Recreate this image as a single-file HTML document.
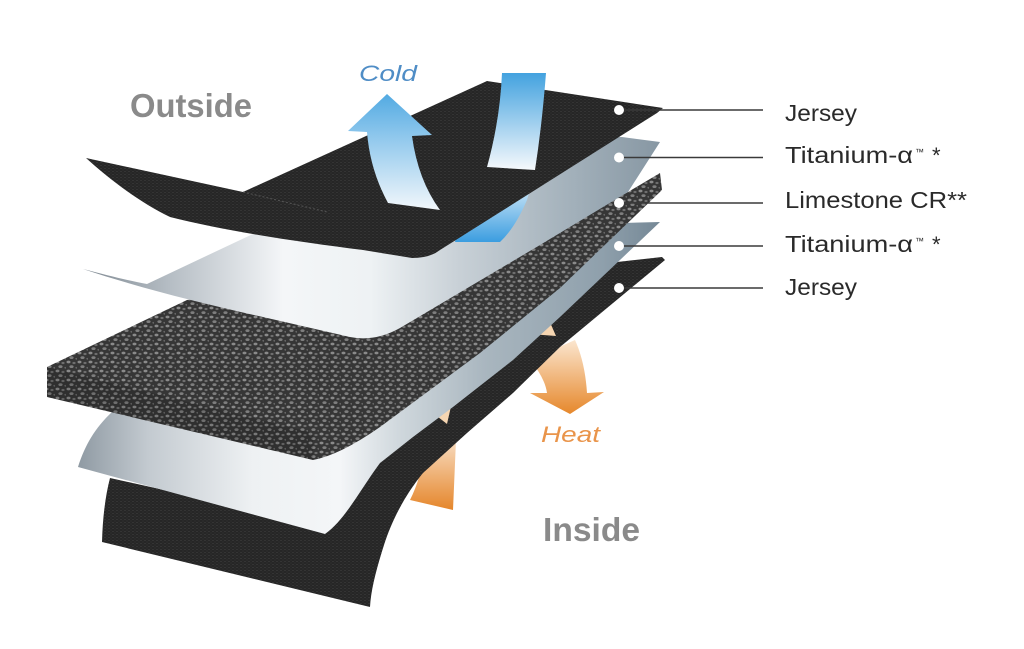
<!DOCTYPE html>
<html><head><meta charset="utf-8"><style>
html,body{margin:0;padding:0;background:#fff;width:1024px;height:649px;overflow:hidden}
svg{display:block}
text{font-family:"Liberation Sans",sans-serif}
</style></head><body>
<svg width="1024" height="649" viewBox="0 0 1024 649" xmlns="http://www.w3.org/2000/svg">
<defs>
<pattern id="knit" width="4" height="3" patternUnits="userSpaceOnUse">
<rect width="4" height="3" fill="#262626"/>
<rect x="0" y="0" width="2" height="1" fill="#343434"/>
<rect x="2" y="1.5" width="2" height="1" fill="#2f2f2f"/>
</pattern>
<pattern id="lime" width="11" height="9" patternUnits="userSpaceOnUse">
<rect width="11" height="9" fill="#363636"/>
<ellipse cx="2.5" cy="2" rx="2" ry="1.4" fill="#8a8a8a"/>
<ellipse cx="8" cy="3" rx="1.6" ry="1.1" fill="#6f6f6f"/>
<ellipse cx="5.5" cy="6.6" rx="2.1" ry="1.4" fill="#7e7e7e"/>
<ellipse cx="10.5" cy="7.8" rx="1.2" ry="0.9" fill="#666"/>
</pattern>
<linearGradient id="s1" gradientUnits="userSpaceOnUse" x1="80" y1="0" x2="660" y2="0">
<stop offset="0" stop-color="#7d8790"/>
<stop offset="0.15" stop-color="#b4bcc3"/>
<stop offset="0.35" stop-color="#f4f6f8"/>
<stop offset="0.5" stop-color="#eef2f4"/>
<stop offset="0.65" stop-color="#c9d1d7"/>
<stop offset="0.85" stop-color="#a2b0ba"/>
<stop offset="1" stop-color="#8797a3"/>
</linearGradient>
<linearGradient id="s2" gradientUnits="userSpaceOnUse" x1="78" y1="0" x2="660" y2="0">
<stop offset="0" stop-color="#8f9aa3"/>
<stop offset="0.12" stop-color="#c3cad0"/>
<stop offset="0.3" stop-color="#eef1f3"/>
<stop offset="0.45" stop-color="#f4f6f8"/>
<stop offset="0.55" stop-color="#d0d8dd"/>
<stop offset="0.7" stop-color="#a9b6bf"/>
<stop offset="0.9" stop-color="#8fa0ac"/>
<stop offset="1" stop-color="#758896"/>
</linearGradient>
<linearGradient id="coldUp" x1="0" y1="0" x2="0" y2="1">
<stop offset="0" stop-color="#52aae2"/>
<stop offset="0.35" stop-color="#8cc6ec"/>
<stop offset="1" stop-color="#f2f7fb"/>
</linearGradient>
<linearGradient id="coldDn" x1="0" y1="0" x2="0" y2="1">
<stop offset="0" stop-color="#43a2df"/>
<stop offset="1" stop-color="#f6f9fc"/>
</linearGradient>
<linearGradient id="coldBit" x1="0" y1="0" x2="0" y2="1">
<stop offset="0" stop-color="#c4e2f6"/>
<stop offset="1" stop-color="#3b9de0"/>
</linearGradient>
<linearGradient id="heat" x1="0" y1="0" x2="0" y2="1">
<stop offset="0" stop-color="#fbe6cf"/>
<stop offset="1" stop-color="#e6882c"/>
</linearGradient>
<linearGradient id="heat2" x1="0" y1="0" x2="0" y2="1">
<stop offset="0" stop-color="#f8dcc0"/>
<stop offset="1" stop-color="#e5862b"/>
</linearGradient>
</defs>

<!-- Heat arrows lower parts (behind bottom jersey) -->
<path d="M530,360 Q545,378 547,393 L530,393 L570,414 L604,392 L587,393 Q585,362 575,340 Z" fill="url(#heat)"/>
<path d="M425,450 L456,440 L453,510 L410,500 Q421,478 425,450 Z" fill="url(#heat2)"/>

<!-- Bottom jersey -->
<path d="M110,478 L300,520 L420,420 L560,300 L617,262 L662,257 L665,260 L560,347 L513,393 L467,433 L423,473 C405,495 392,520 384,545 C376,570 371,590 370,607 L102,542 Q103,505 110,478 Z" fill="url(#knit)"/>

<!-- heat tips on jersey -->
<path d="M530,334 L549,320 L556,336 Z" fill="#f6d6b2"/>
<path d="M433,413 L452,402 L447,424 Z" fill="#f6d6b2"/>

<!-- Silver 2 -->
<path d="M78,467 C85,445 95,428 112,412 L300,330 L540,250 L622,223 L660,222 L560,317 L513,360 L453,407 L413,437 L380,463 C360,490 345,520 325,534 Z" fill="url(#s2)"/>

<!-- Limestone -->
<path d="M47,367 L187,300 L540,240 L628,192 L660,173 L662,190 L560,288 L480,353 L380,427 Q340,455 313,460 L47,397 Z" fill="url(#lime)"/>
<path d="M47,367 L313,433 L313,460 L47,397 Z" fill="#000" opacity="0.12"/>

<!-- Silver 1 -->
<path d="M83,269 C110,276 130,281 147,284 L257,232 L480,140 L622,137 L660,142 L628,192 L540,245 L400,328 Q375,342 350,337 L263,317 C200,303 140,288 83,269 Z" fill="url(#s1)"/>

<!-- Cold bit under jersey -->
<path d="M470,190 L530,190 L527,200 Q515,228 500,242 L455,242 Z" fill="url(#coldBit)"/>

<!-- Top jersey -->
<path d="M86,158 L243,192 L487,81 L663,108 L657,113 L440,250 Q430,258 412,258 L363,250 C300,242 230,232 170,217 C135,200 105,175 86,158 Z" fill="url(#knit)"/>
<path d="M243,192 L327,212" stroke="#555" stroke-width="1" stroke-dasharray="2,2" fill="none"/>

<!-- Cold arrows -->
<path d="M387,94 L432,135 L412,136 Q418,180 440,210 L388,203 Q370,170 367,132 L348,131 Z" fill="url(#coldUp)"/>
<path d="M502,73 L546,73 Q542,125 535,170 L487,167 Q500,120 502,73 Z" fill="url(#coldDn)"/>

<!-- Leader lines -->
<g stroke="#3a3a3a" stroke-width="1.4">
<line x1="619" y1="110" x2="763" y2="110"/>
<line x1="619" y1="157.5" x2="763" y2="157.5"/>
<line x1="619" y1="203" x2="763" y2="203"/>
<line x1="619" y1="246" x2="763" y2="246"/>
<line x1="619" y1="288" x2="763" y2="288"/>
</g>
<g fill="#fff">
<circle cx="619" cy="110" r="5"/>
<circle cx="619" cy="157.5" r="5"/>
<circle cx="619" cy="203" r="5"/>
<circle cx="619" cy="246" r="5"/>
<circle cx="619" cy="288" r="5"/>
</g>

<!-- Labels -->
<g fill="#2a2a2a" font-size="23">
<text x="785" y="121" textLength="72" lengthAdjust="spacingAndGlyphs">Jersey</text>
<text x="785" y="163" textLength="128" lengthAdjust="spacingAndGlyphs">Titanium-α</text>
<text x="915" y="155" font-size="9">™</text>
<text x="932" y="163" font-size="22">*</text>
<text x="785" y="208" textLength="182" lengthAdjust="spacingAndGlyphs">Limestone CR**</text>
<text x="785" y="252" textLength="128" lengthAdjust="spacingAndGlyphs">Titanium-α</text>
<text x="915" y="244" font-size="9">™</text>
<text x="932" y="252" font-size="22">*</text>
<text x="785" y="295" textLength="72" lengthAdjust="spacingAndGlyphs">Jersey</text>
</g>

<text x="130" y="117" font-size="33" font-weight="bold" fill="#8a8a8a" textLength="122" lengthAdjust="spacingAndGlyphs">Outside</text>
<text x="543" y="541" font-size="33" font-weight="bold" fill="#8a8a8a" textLength="97" lengthAdjust="spacingAndGlyphs">Inside</text>
<text x="359" y="81" font-size="22" font-style="italic" fill="#4f8dc6" textLength="58" lengthAdjust="spacingAndGlyphs">Cold</text>
<text x="541" y="442" font-size="22" font-style="italic" fill="#e9944a" textLength="59" lengthAdjust="spacingAndGlyphs">Heat</text>
</svg>
</body></html>
